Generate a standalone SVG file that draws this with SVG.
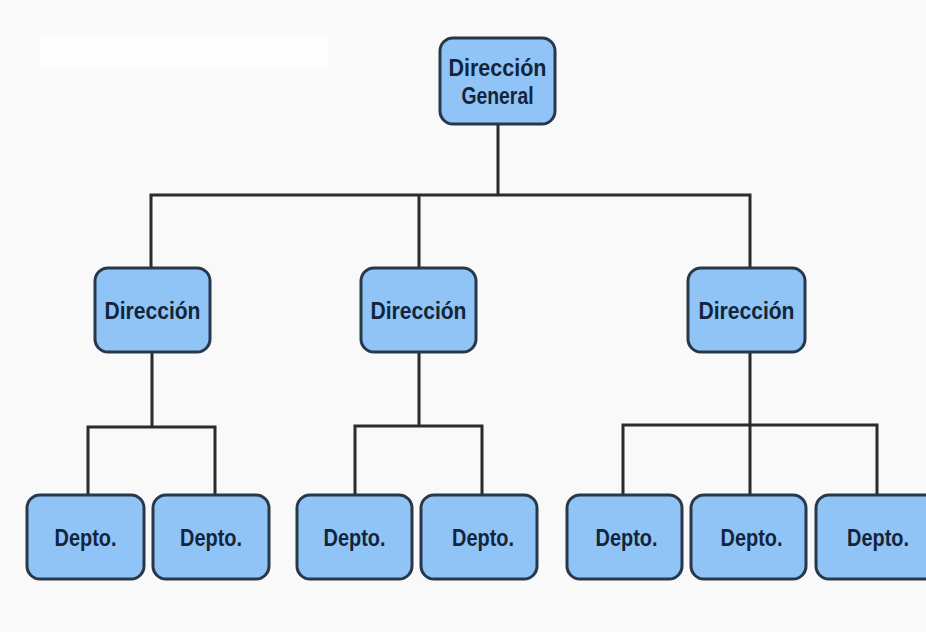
<svg xmlns="http://www.w3.org/2000/svg" width="926" height="632" viewBox="0 0 926 632">
<style>
.box{fill:#90c4f6;stroke:#27384a;stroke-width:3}
.t{font-family:"Liberation Sans",Arial,sans-serif;font-weight:bold;font-size:23px;fill:#14243a;text-anchor:middle}
.c{fill:none;stroke:#2b2b2b;stroke-width:3}
</style>
<rect width="926" height="632" fill="#f9f9f9"/>
<rect x="40" y="35" width="288" height="36" fill="#fdfdfd"/>
<g id="connectors">
<path class="c" d="M498 124V195M151 268V195H750V268M419 195V268"/>
<path class="c" d="M152 352V427M88 495V427H215V495"/>
<path class="c" d="M419 352V426M355 495V426H482V495"/>
<path class="c" d="M750 352V495M623 495V425H877V495"/>
</g>
<g id="n-general"><rect class="box" x="440" y="38" width="115" height="86" rx="13"/><text class="t" x="497.5" y="76" textLength="98" lengthAdjust="spacingAndGlyphs">Dirección</text><text class="t" x="497.5" y="104" textLength="72" lengthAdjust="spacingAndGlyphs">General</text></g>
<g id="n-dir1"><rect class="box" x="95" y="268" width="115" height="84" rx="13"/><text class="t" x="152.5" y="319" textLength="96" lengthAdjust="spacingAndGlyphs">Dirección</text></g>
<g id="n-dir2"><rect class="box" x="361" y="268" width="115" height="84" rx="13"/><text class="t" x="418.5" y="319" textLength="96" lengthAdjust="spacingAndGlyphs">Dirección</text></g>
<g id="n-dir3"><rect class="box" x="688" y="268" width="117" height="84" rx="13"/><text class="t" x="746.5" y="319" textLength="96" lengthAdjust="spacingAndGlyphs">Dirección</text></g>
<g id="n-d1"><rect class="box" x="27" y="495" width="117" height="84" rx="13"/><text class="t" x="85.5" y="546" textLength="62" lengthAdjust="spacingAndGlyphs">Depto.</text></g>
<g id="n-d2"><rect class="box" x="153" y="495" width="116" height="84" rx="13"/><text class="t" x="211" y="546" textLength="62" lengthAdjust="spacingAndGlyphs">Depto.</text></g>
<g id="n-d3"><rect class="box" x="297" y="495" width="115" height="84" rx="13"/><text class="t" x="354.5" y="546" textLength="62" lengthAdjust="spacingAndGlyphs">Depto.</text></g>
<g id="n-d4"><rect class="box" x="421" y="495" width="116" height="84" rx="13"/><text class="t" x="483" y="546" textLength="62" lengthAdjust="spacingAndGlyphs">Depto.</text></g>
<g id="n-d5"><rect class="box" x="567" y="495" width="115" height="84" rx="13"/><text class="t" x="626.5" y="546" textLength="62" lengthAdjust="spacingAndGlyphs">Depto.</text></g>
<g id="n-d6"><rect class="box" x="691" y="495" width="115" height="84" rx="13"/><text class="t" x="751.5" y="546" textLength="62" lengthAdjust="spacingAndGlyphs">Depto.</text></g>
<g id="n-d7"><rect class="box" x="816" y="495" width="125" height="84" rx="13"/><text class="t" x="878" y="546" textLength="62" lengthAdjust="spacingAndGlyphs">Depto.</text></g>
</svg>
